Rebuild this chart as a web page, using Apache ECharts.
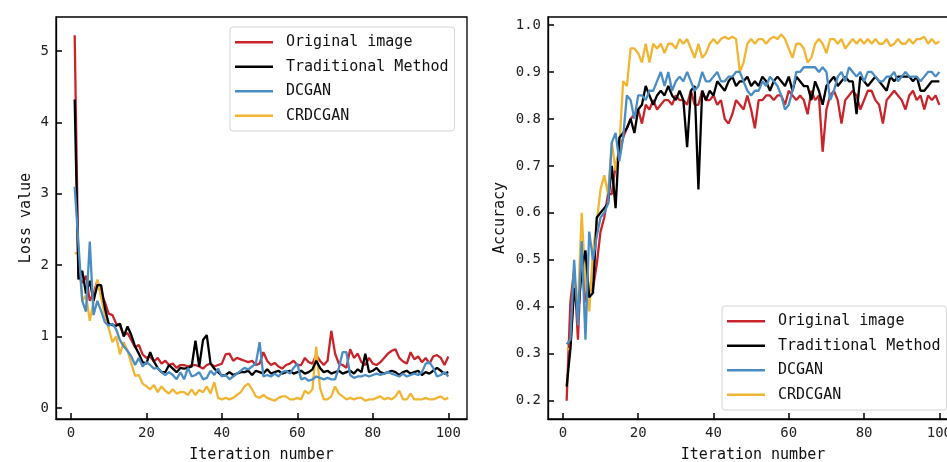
<!DOCTYPE html>
<html>
<head>
<meta charset="utf-8">
<script src="https://cdn.jsdelivr.net/npm/echarts@6/dist/echarts.min.js"></script>
<style>
    html, body { margin: 0; padding: 0; background: #fff; }
    #main { width: 947px; height: 462px; }
</style>
</head>
<body>
<div id="main"></div>
<script>
"use strict";

var names = ['Original image', 'Traditional Method', 'DCGAN', 'CRDCGAN'];
var colors = ['#c8242a', '#000000', '#4a8dc4', '#f2b533'];
var xTicks = [0, 20, 40, 60, 80, 100];
var lossTicks = [0, 1, 2, 3, 4, 5];
var accTicks = [0.2, 0.3, 0.4, 0.5, 0.6, 0.7, 0.8, 0.9, 1.0];

// 损失值 (左图)
var lossOrig = [
    5.22, 1.85, 1.75, 1.85, 1.50, 1.60, 1.78, 1.60, 1.48, 1.32,
    1.30, 1.18, 1.15, 1.02, 1.05, 0.95, 0.85, 0.88, 0.75, 0.70,
    0.72, 0.65, 0.70, 0.62, 0.66, 0.60, 0.62, 0.56, 0.60, 0.60,
    0.58, 0.60, 0.60, 0.58, 0.55, 0.60, 0.62, 0.58, 0.60, 0.62,
    0.75, 0.76, 0.66, 0.70, 0.68, 0.66, 0.64, 0.66, 0.60, 0.62,
    0.78, 0.66, 0.60, 0.63, 0.58, 0.55, 0.60, 0.62, 0.66, 0.60,
    0.60, 0.70, 0.64, 0.62, 0.74, 0.66, 0.60, 0.66, 1.08, 0.76,
    0.62, 0.60, 0.56, 0.82, 0.70, 0.76, 0.64, 0.60, 0.70, 0.62,
    0.60, 0.64, 0.70, 0.76, 0.80, 0.82, 0.70, 0.65, 0.62, 0.78,
    0.68, 0.72, 0.64, 0.70, 0.62, 0.72, 0.74, 0.70, 0.60, 0.72
];
var lossTrad = [
    4.32, 1.80, 1.92, 1.60, 1.78, 1.50, 1.72, 1.72, 1.40, 1.18,
    1.16, 1.15, 1.18, 1.00, 1.14, 1.02, 0.86, 0.76, 0.64, 0.62,
    0.78, 0.65, 0.56, 0.50, 0.50, 0.60, 0.55, 0.50, 0.56, 0.55,
    0.56, 0.58, 0.94, 0.58, 0.95, 1.02, 0.62, 0.55, 0.50, 0.45,
    0.46, 0.50, 0.46, 0.48, 0.50, 0.50, 0.52, 0.46, 0.52, 0.50,
    0.48, 0.54, 0.48, 0.50, 0.52, 0.48, 0.50, 0.52, 0.48, 0.50,
    0.52, 0.48, 0.50, 0.54, 0.66, 0.56, 0.50, 0.52, 0.48, 0.50,
    0.52, 0.48, 0.50, 0.52, 0.48, 0.54, 0.50, 0.76, 0.50, 0.52,
    0.56, 0.50, 0.48, 0.50, 0.52, 0.50, 0.46, 0.50, 0.52, 0.48,
    0.50, 0.52, 0.46, 0.50, 0.48, 0.52, 0.56, 0.52, 0.48, 0.50
];
var lossDC = [
    3.10, 2.30, 1.50, 1.35, 2.33, 1.30, 1.50, 1.36, 1.20, 1.15,
    1.18, 1.10, 0.95, 0.86, 0.80, 0.72, 0.60, 0.70, 0.58, 0.64,
    0.60, 0.55, 0.56, 0.50, 0.46, 0.50, 0.46, 0.40, 0.50, 0.40,
    0.56, 0.44, 0.46, 0.50, 0.40, 0.42, 0.52, 0.46, 0.55, 0.44,
    0.46, 0.40, 0.44, 0.48, 0.52, 0.56, 0.54, 0.58, 0.62, 0.92,
    0.44, 0.46, 0.44, 0.48, 0.44, 0.50, 0.52, 0.48, 0.56, 0.62,
    0.40, 0.42, 0.38, 0.40, 0.44, 0.42, 0.40, 0.42, 0.40, 0.40,
    0.56, 0.78, 0.78, 0.46, 0.42, 0.44, 0.44, 0.46, 0.44, 0.46,
    0.48, 0.46, 0.48, 0.50, 0.48, 0.46, 0.44, 0.48, 0.44, 0.46,
    0.48, 0.46, 0.50, 0.62, 0.64, 0.56, 0.44, 0.46, 0.50, 0.44
];
var lossCR = [
    2.16, 2.18, 1.50, 1.58, 1.22, 1.48, 1.80, 1.55, 1.30, 1.12,
    0.92, 1.00, 0.75, 0.92, 0.80, 0.62, 0.45, 0.46, 0.34, 0.30,
    0.26, 0.32, 0.22, 0.30, 0.24, 0.20, 0.26, 0.20, 0.22, 0.22,
    0.18, 0.26, 0.18, 0.25, 0.22, 0.30, 0.20, 0.36, 0.14, 0.12,
    0.14, 0.12, 0.14, 0.18, 0.22, 0.30, 0.34, 0.26, 0.16, 0.14,
    0.18, 0.14, 0.12, 0.10, 0.14, 0.16, 0.16, 0.12, 0.12, 0.14,
    0.12, 0.24, 0.20, 0.26, 0.86, 0.28, 0.12, 0.12, 0.16, 0.30,
    0.20, 0.16, 0.12, 0.14, 0.12, 0.14, 0.14, 0.10, 0.12, 0.12,
    0.14, 0.16, 0.12, 0.14, 0.12, 0.16, 0.24, 0.12, 0.12, 0.20,
    0.12, 0.12, 0.12, 0.14, 0.12, 0.12, 0.14, 0.16, 0.12, 0.14
];

// 准确率 (右图)
var accOrig = [
    0.20, 0.41, 0.48, 0.33, 0.53, 0.41, 0.43, 0.44, 0.49, 0.56,
    0.59, 0.64, 0.64, 0.70, 0.73, 0.76, 0.78, 0.80, 0.81, 0.82,
    0.79, 0.83, 0.82, 0.84, 0.82, 0.83, 0.84, 0.84, 0.83, 0.85,
    0.84, 0.84, 0.83, 0.86, 0.83, 0.83, 0.86, 0.84, 0.84, 0.85,
    0.83, 0.84, 0.80, 0.79, 0.81, 0.84, 0.83, 0.82, 0.85, 0.82,
    0.78, 0.84, 0.84, 0.85, 0.85, 0.84, 0.85, 0.85, 0.83, 0.86,
    0.85, 0.84, 0.85, 0.84, 0.81, 0.86, 0.84, 0.85, 0.73, 0.82,
    0.85, 0.86, 0.84, 0.79, 0.84, 0.85, 0.86, 0.85, 0.82, 0.84,
    0.86, 0.86, 0.84, 0.83, 0.79, 0.84, 0.85, 0.86, 0.85, 0.84,
    0.82, 0.85, 0.86, 0.84, 0.85, 0.82, 0.85, 0.84, 0.85, 0.83
];
var accTrad = [
    0.23, 0.31, 0.44, 0.38, 0.48, 0.52, 0.42, 0.43, 0.59, 0.60,
    0.61, 0.62, 0.70, 0.61, 0.76, 0.77, 0.78, 0.80, 0.77, 0.82,
    0.83, 0.87, 0.85, 0.83, 0.85, 0.86, 0.85, 0.87, 0.85, 0.84,
    0.86, 0.84, 0.74, 0.86, 0.87, 0.65, 0.86, 0.84, 0.86, 0.85,
    0.88, 0.87, 0.86, 0.88, 0.89, 0.87, 0.88, 0.88, 0.89, 0.87,
    0.88, 0.87, 0.89, 0.88, 0.86, 0.88, 0.89, 0.88, 0.87, 0.89,
    0.86, 0.89, 0.88, 0.87, 0.87, 0.84, 0.88, 0.86, 0.83, 0.87,
    0.88, 0.89, 0.87, 0.88, 0.89, 0.88, 0.88, 0.81, 0.89, 0.88,
    0.87, 0.88, 0.89, 0.88, 0.87, 0.86, 0.89, 0.88, 0.89, 0.89,
    0.89, 0.89, 0.88, 0.89, 0.86, 0.86, 0.87, 0.88, 0.88, 0.88
];
var accDC = [
    0.32, 0.33, 0.50, 0.36, 0.54, 0.33, 0.56, 0.50, 0.55, 0.59,
    0.60, 0.62, 0.75, 0.77, 0.71, 0.76, 0.85, 0.84, 0.80, 0.85,
    0.85, 0.84, 0.86, 0.86, 0.88, 0.90, 0.87, 0.90, 0.86, 0.88,
    0.89, 0.88, 0.90, 0.88, 0.86, 0.87, 0.90, 0.88, 0.88, 0.89,
    0.90, 0.88, 0.88, 0.89, 0.89, 0.90, 0.90, 0.88, 0.86, 0.85,
    0.86, 0.86, 0.88, 0.87, 0.89, 0.88, 0.87, 0.85, 0.82, 0.83,
    0.86, 0.90, 0.90, 0.91, 0.91, 0.91, 0.91, 0.90, 0.91, 0.90,
    0.84, 0.86, 0.89, 0.90, 0.88, 0.91, 0.90, 0.89, 0.90, 0.88,
    0.90, 0.90, 0.89, 0.88, 0.88, 0.89, 0.89, 0.90, 0.88, 0.89,
    0.90, 0.89, 0.89, 0.89, 0.88, 0.89, 0.90, 0.90, 0.89, 0.90
];
var accCR = [
    0.31, 0.31, 0.45, 0.40, 0.60, 0.45, 0.39, 0.52, 0.58, 0.65,
    0.68, 0.64, 0.75, 0.69, 0.74, 0.88, 0.87, 0.95, 0.95, 0.94,
    0.92, 0.96, 0.92, 0.96, 0.95, 0.96, 0.94, 0.96, 0.96, 0.95,
    0.97, 0.96, 0.97, 0.95, 0.93, 0.96, 0.93, 0.94, 0.96, 0.97,
    0.96, 0.97, 0.975, 0.97, 0.975, 0.97, 0.90, 0.92, 0.96, 0.97,
    0.96, 0.97, 0.97, 0.96, 0.97, 0.975, 0.97, 0.98, 0.97, 0.95,
    0.93, 0.96, 0.96, 0.95, 0.92, 0.93, 0.96, 0.97, 0.96, 0.94,
    0.97, 0.97, 0.96, 0.97, 0.95, 0.96, 0.97, 0.96, 0.97, 0.96,
    0.97, 0.96, 0.97, 0.96, 0.96, 0.97, 0.955, 0.96, 0.97, 0.96,
    0.96, 0.97, 0.96, 0.97, 0.97, 0.975, 0.96, 0.97, 0.96, 0.965
];

var FONT = 'DejaVu Sans Mono';

function pairs(arr) {
    return arr.map(function (v, i) { return [i + 1, v]; });
}

// 刻度朝内
function tickStyle(ticks) {
    return { show: true, inside: true, length: 6, customValues: ticks,
        lineStyle: { color: '#000', width: 1.5 } };
}

function xAxisOf(idx) {
    return {
        type: 'value', gridIndex: idx, z: 10,
        min: -3.95, max: 104.95,
        name: 'Iteration number', nameLocation: 'middle', nameGap: 29,
        nameTextStyle: { fontFamily: FONT, fontSize: 15, color: '#111' },
        axisLine: { show: true, onZero: false, lineStyle: { color: '#000', width: 1.3 } },
        splitLine: { show: false },
        axisTick: tickStyle(xTicks),
        axisLabel: { customValues: xTicks, margin: 7, fontFamily: FONT, fontSize: 14, color: '#222' }
    };
}

function yAxisOf(idx, name, min, max, ticks, gap, fmt) {
    return {
        type: 'value', gridIndex: idx, z: 10, min: min, max: max,
        name: name, nameLocation: 'middle', nameGap: gap,
        nameTextStyle: { fontFamily: FONT, fontSize: 15, color: '#111' },
        axisLine: { show: true, onZero: false, lineStyle: { color: '#000', width: 1.3 } },
        splitLine: { show: false },
        axisTick: tickStyle(ticks),
        axisLabel: { customValues: ticks, margin: 7, fontFamily: FONT, fontSize: 14, color: '#222',
            formatter: fmt }
    };
}

function legendAt(left, top) {
    return {
        orient: 'vertical', left: left, top: top,
        data: names,
        icon: 'rect', itemWidth: 38, itemHeight: 2.5, itemGap: 0,
        padding: [3, 6, 3, 5],
        borderColor: '#d4d4d4', borderWidth: 1, borderRadius: 3,
        backgroundColor: 'rgba(255,255,255,0.85)',
        textStyle: { fontFamily: FONT, fontSize: 15, color: '#111', lineHeight: 24.5,
            padding: [0, 0, 0, 8] }
    };
}

var lossSets = [lossOrig, lossTrad, lossDC, lossCR];
var accSets = [accOrig, accTrad, accDC, accCR];
var series = [];
[lossSets, accSets].forEach(function (sets, g) {
    sets.forEach(function (arr, k) {
        series.push({
            name: names[k], type: 'line',
            xAxisIndex: g, yAxisIndex: g,
            data: pairs(arr),
            showSymbol: false, symbol: 'none',
            color: colors[k],
            lineStyle: { width: 2.3, color: colors[k] },
            z: 2 + (k === 3 ? 0 : k)
        });
    });
});

var chart = echarts.init(document.getElementById('main'));
chart.setOption({
    animation: false,
    grid: [
        { left: 56, top: 17, width: 411, height: 402, outerBoundsMode: 'none', containLabel: false,
          show: true, backgroundColor: 'transparent', borderColor: '#000', borderWidth: 1.3 },
        { left: 548, top: 17, width: 410, height: 402, outerBoundsMode: 'none', containLabel: false,
          show: true, backgroundColor: 'transparent', borderColor: '#000', borderWidth: 1.3 }
    ],
    xAxis: [xAxisOf(0), xAxisOf(1)],
    yAxis: [
        yAxisOf(0, 'Loss value', -0.156, 5.476, lossTicks, 22, function (v) { return String(v); }),
        yAxisOf(1, 'Accuracy', 0.161, 1.017, accTicks, 40, function (v) { return v.toFixed(1); })
    ],
    legend: [legendAt(230, 27), legendAt(722, 306)],
    series: series
});
</script>
</body>
</html>
